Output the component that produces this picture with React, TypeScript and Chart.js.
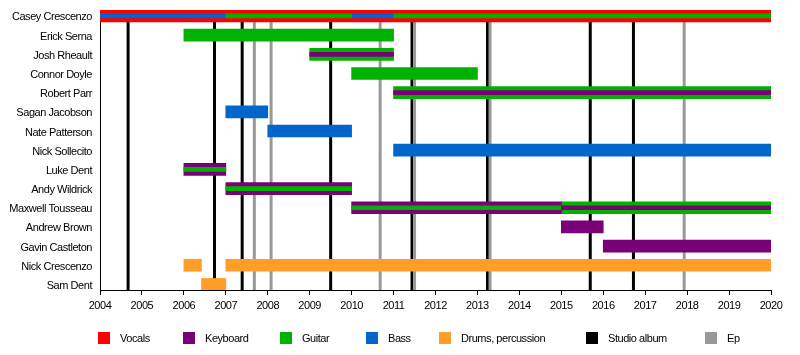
import React, { useEffect, useRef } from 'react';
import { Chart, registerables } from 'chart.js';

Chart.register(...registerables);

// ---------- DATA ----------
const members = [
  'Casey Crescenzo',
  'Erick Serna',
  'Josh Rheault',
  'Connor Doyle',
  'Robert Parr',
  'Sagan Jacobson',
  'Nate Patterson',
  'Nick Sollecito',
  'Luke Dent',
  'Andy Wildrick',
  'Maxwell Tousseau',
  'Andrew Brown',
  'Gavin Castleton',
  'Nick Crescenzo',
  'Sam Dent',
];

const yearTicks = [2004, 2020];

// main role bars: [member, start, end]
const vocalsBars: [string, number, number][] = [['Casey Crescenzo', 2004, 2020]];
const keyboardBars: [string, number, number][] = [
  ['Luke Dent', 2006, 2007],
  ['Andy Wildrick', 2007, 2010],
  ['Maxwell Tousseau', 2010, 2015],
  ['Andrew Brown', 2015, 2016],
  ['Gavin Castleton', 2016, 2020],
];
const guitarBars: [string, number, number][] = [
  ['Erick Serna', 2006, 2011],
  ['Josh Rheault', 2009, 2011],
  ['Connor Doyle', 2010, 2013],
  ['Robert Parr', 2011, 2020],
  ['Maxwell Tousseau', 2015, 2020],
];
const bassBars: [string, number, number][] = [
  ['Sagan Jacobson', 2007, 2008],
  ['Nate Patterson', 2008, 2010],
  ['Nick Sollecito', 2011, 2020],
];
const drumsBars: [string, number, number][] = [
  ['Nick Crescenzo', 2006, 2006.42],
  ['Nick Crescenzo', 2007, 2020],
  ['Sam Dent', 2006.42, 2007],
];

// secondary role stripes: [member, start, end]
const keyboardStripes: [string, number, number][] = [
  ['Josh Rheault', 2009, 2011],
  ['Robert Parr', 2011, 2020],
  ['Maxwell Tousseau', 2015, 2020],
];
const guitarStripes: [string, number, number][] = [
  ['Casey Crescenzo', 2007, 2010],
  ['Casey Crescenzo', 2011, 2020],
  ['Luke Dent', 2006, 2007],
  ['Andy Wildrick', 2007, 2010],
  ['Maxwell Tousseau', 2010, 2015],
];
const bassStripes: [string, number, number][] = [
  ['Casey Crescenzo', 2004, 2007],
  ['Casey Crescenzo', 2010, 2011],
];

const studioAlbums = [2004.67, 2006.73, 2007.39, 2009.5, 2011.44, 2013.24, 2015.69, 2016.72];
const eps = [2007.68, 2008.08, 2010.68, 2011.5, 2013.3, 2017.93];

const legendLabels = ['Vocals', 'Keyboard', 'Guitar', 'Bass', 'Drums, percussion', 'Studio album', 'Ep'];

// ---------- STYLE ----------
const COLORS = {
  vocals: '#FF0000',
  keyboard: '#7A0078',
  guitar: '#00B200',
  bass: '#0066CC',
  drums: '#FF9F28',
  studio: '#000000',
  ep: '#999999',
};
const legendColors = [COLORS.vocals, COLORS.keyboard, COLORS.guitar, COLORS.bass, COLORS.drums, COLORS.studio, COLORS.ep];
const legendX = [98, 183, 280, 366, 439, 586, 705];
const FONT_FAMILY = "'Liberation Sans', Arial, sans-serif";
const LETTER_SPACING = '-0.45px';

const toPoints = (rows: [string, number, number][]) =>
  rows.map(([m, s, e]) => ({ y: members.indexOf(m), x: [s, e] }));

const bar = (label: string, rows: [string, number, number][], color: string, thickness: number, order: number) => ({
  label,
  data: toPoints(rows),
  backgroundColor: color,
  borderWidth: 0,
  barThickness: thickness,
  grouped: false,
  order,
});

const linesPlugin = {
  id: 'albumLines',
  beforeDatasetsDraw(chart: any) {
    const { ctx, chartArea, scales } = chart;
    ctx.save();
    ctx.lineWidth = 3;
    ctx.lineCap = 'butt';
    const drawSet = (vals: number[], color: string) => {
      ctx.strokeStyle = color;
      vals.forEach((v) => {
        const x = scales.x.getPixelForValue(v);
        ctx.beginPath();
        ctx.moveTo(x, chartArea.top);
        ctx.lineTo(x, chartArea.bottom);
        ctx.stroke();
      });
    };
    drawSet(studioAlbums, COLORS.studio);
    drawSet(eps, COLORS.ep);
    ctx.restore();
  },
};

const spacingPlugin = {
  id: 'letterSpacing',
  beforeDraw(chart: any) {
    (chart.ctx as any).letterSpacing = LETTER_SPACING;
  },
};

const legendPlugin = {
  id: 'customLegend',
  afterDraw(chart: any) {
    const { ctx } = chart;
    ctx.save();
    (ctx as any).letterSpacing = LETTER_SPACING;
    ctx.font = `11px ${FONT_FAMILY}`;
    ctx.textBaseline = 'middle';
    ctx.textAlign = 'left';
    const cy = 338;
    legendLabels.forEach((lab, i) => {
      ctx.fillStyle = legendColors[i];
      ctx.fillRect(legendX[i], cy - 6, 12, 12);
      ctx.fillStyle = '#000';
      ctx.fillText(lab, legendX[i] + 22, cy + 0.5);
    });
    ctx.restore();
  },
};

export default function App() {
  const ref = useRef<HTMLCanvasElement | null>(null);

  useEffect(() => {
    if (!ref.current) return;
    const chart = new Chart(ref.current, {
      type: 'bar',
      data: {
        datasets: [
          bar('Keyboard (2nd)', keyboardStripes, COLORS.keyboard, 4, 0),
          bar('Guitar (2nd)', guitarStripes, COLORS.guitar, 4, 0),
          bar('Bass (2nd)', bassStripes, COLORS.bass, 4, 0),
          bar('Vocals', vocalsBars, COLORS.vocals, 12, 1),
          bar('Keyboard', keyboardBars, COLORS.keyboard, 12, 1),
          bar('Guitar', guitarBars, COLORS.guitar, 12, 1),
          bar('Bass', bassBars, COLORS.bass, 12, 1),
          bar('Drums, percussion', drumsBars, COLORS.drums, 12, 1),
        ] as any,
      },
      options: {
        responsive: false,
        animation: false,
        indexAxis: 'y',
        layout: { padding: { left: 0, right: 29, top: 10, bottom: 0 } },
        plugins: {
          legend: { display: false },
          tooltip: { enabled: false },
        },
        scales: {
          x: {
            type: 'linear',
            position: 'bottom',
            offset: false,
            min: yearTicks[0],
            max: yearTicks[1],
            ticks: {
              stepSize: 1,
              autoSkip: false,
              maxRotation: 0,
              color: '#000',
              padding: 4,
              font: { family: FONT_FAMILY, size: 11 },
              callback: (v: any) => String(v),
            },
            grid: {
              display: true,
              offset: false,
              drawOnChartArea: false,
              drawTicks: true,
              tickLength: 5,
              color: '#000',
            },
            border: { display: true, color: '#000', width: 1 },
            afterFit: (s: any) => {
              s.height = 65;
              s.paddingLeft = 0;
              s.paddingRight = 0;
            },
          },
          y: {
            type: 'linear',
            offset: false,
            min: -0.31,
            max: 14.29,
            reverse: true,
            afterBuildTicks: (s: any) => {
              s.ticks = members.map((_, i) => ({ value: i }));
            },
            ticks: {
              autoSkip: false,
              color: '#000',
              padding: 8,
              labelOffset: 1.5,
              font: { family: FONT_FAMILY, size: 11 },
              callback: (v: any) => members[v] ?? '',
            },
            grid: { display: false, drawTicks: false, offset: false },
            border: { display: true, color: '#000', width: 1 },
            afterFit: (s: any) => {
              s.width = 100;
              s.paddingTop = 0;
              s.paddingBottom = 0;
            },
          },
        },
      } as any,
      plugins: [spacingPlugin, linesPlugin, legendPlugin],
    });
    return () => chart.destroy();
  }, []);

  return (
    <div style={{ position: 'absolute', left: 0, top: 0, width: 800, height: 355, background: '#fff' }}>
      <canvas ref={ref} width={800} height={355} style={{ display: 'block' }} />
    </div>
  );
}
